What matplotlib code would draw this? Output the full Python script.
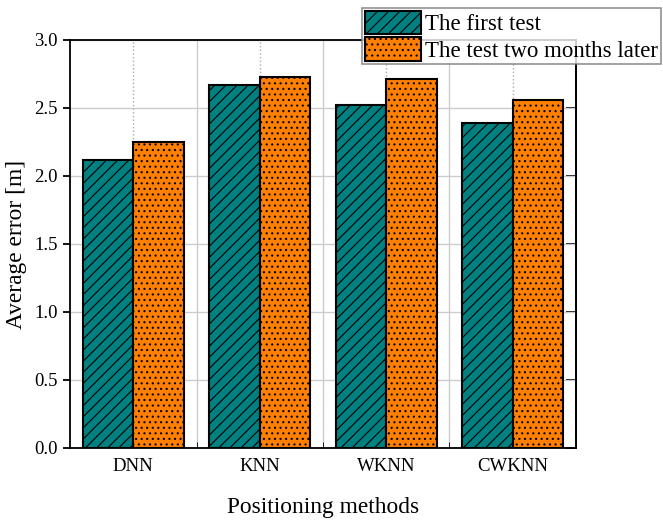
import numpy as np
import matplotlib.pyplot as plt
from matplotlib.ticker import MultipleLocator, FixedLocator

methods = ['DNN', 'KNN', 'WKNN', 'CWKNN']
first_test = [2.12, 2.67, 2.52, 2.39]
later_test = [2.25, 2.73, 2.71, 2.56]

plt.rcParams['font.family'] = ['Liberation Serif', 'DejaVu Serif']
plt.rcParams['hatch.linewidth'] = 0.8

fig = plt.figure(figsize=(6.63, 5.21), dpi=100)
# axes box: x 70..576 px, y 40..448 px
ax = fig.add_axes([70 / 663, 1 - 448 / 521, 506 / 663, 408 / 521])

x = np.arange(len(methods))
w = 0.4
ax.bar(x - w / 2, first_test, w, color='#008080', edgecolor='black', linewidth=1.5,
       hatch='///', label='The first test', zorder=3)
ax.bar(x + w / 2, later_test, w, color='#FF8000', edgecolor='black', linewidth=1.5,
       hatch='...', label='The test two months later', zorder=3)

ax.set_xlim(-0.5, 3.5)
ax.set_ylim(0, 3.0)
ax.yaxis.set_major_locator(MultipleLocator(0.5))
ax.set_xticks(x)
ax.set_xticklabels(methods)
ax.xaxis.set_minor_locator(FixedLocator([0.5, 1.5, 2.5]))

ax.grid(axis='y', which='major', color='#cccccc', linewidth=1, zorder=0)
ax.grid(axis='x', which='major', color='#aaaaaa', linestyle=':', linewidth=1, zorder=0)
ax.grid(axis='x', which='minor', color='#cccccc', linewidth=1, zorder=0)

for s in ax.spines.values():
    s.set_linewidth(1.3)
ax.tick_params(axis='y', direction='out', length=5, width=1.3, labelsize=13.5, pad=4)
ax.tick_params(axis='x', which='major', length=0, labelsize=13.5, pad=7)
ax.tick_params(axis='x', which='minor', direction='in', length=4)

# mirrored ticks on the right side, pointing inward
right = ax.secondary_yaxis('right')
right.yaxis.set_major_locator(MultipleLocator(0.5))
right.tick_params(direction='in', length=7, width=1.3, labelright=False)
right.spines['right'].set_linewidth(1.3)

ax.set_ylabel('Average error [m]', fontsize=16.8, labelpad=5)
ax.set_xlabel('Positioning methods', fontsize=16.8, labelpad=16)

leg = ax.legend(loc='upper left', bbox_to_anchor=(362 / 663, 1 - 8 / 521), bbox_transform=fig.transFigure,
                fontsize=16.5, frameon=True, fancybox=False, edgecolor='#777777',
                borderpad=0.12, handlelength=2.45, handleheight=1.18, handletextpad=0.2,
                labelspacing=0.1, borderaxespad=0)
leg.get_frame().set_linewidth(1.2)

fig.savefig('out.png', dpi=100)
